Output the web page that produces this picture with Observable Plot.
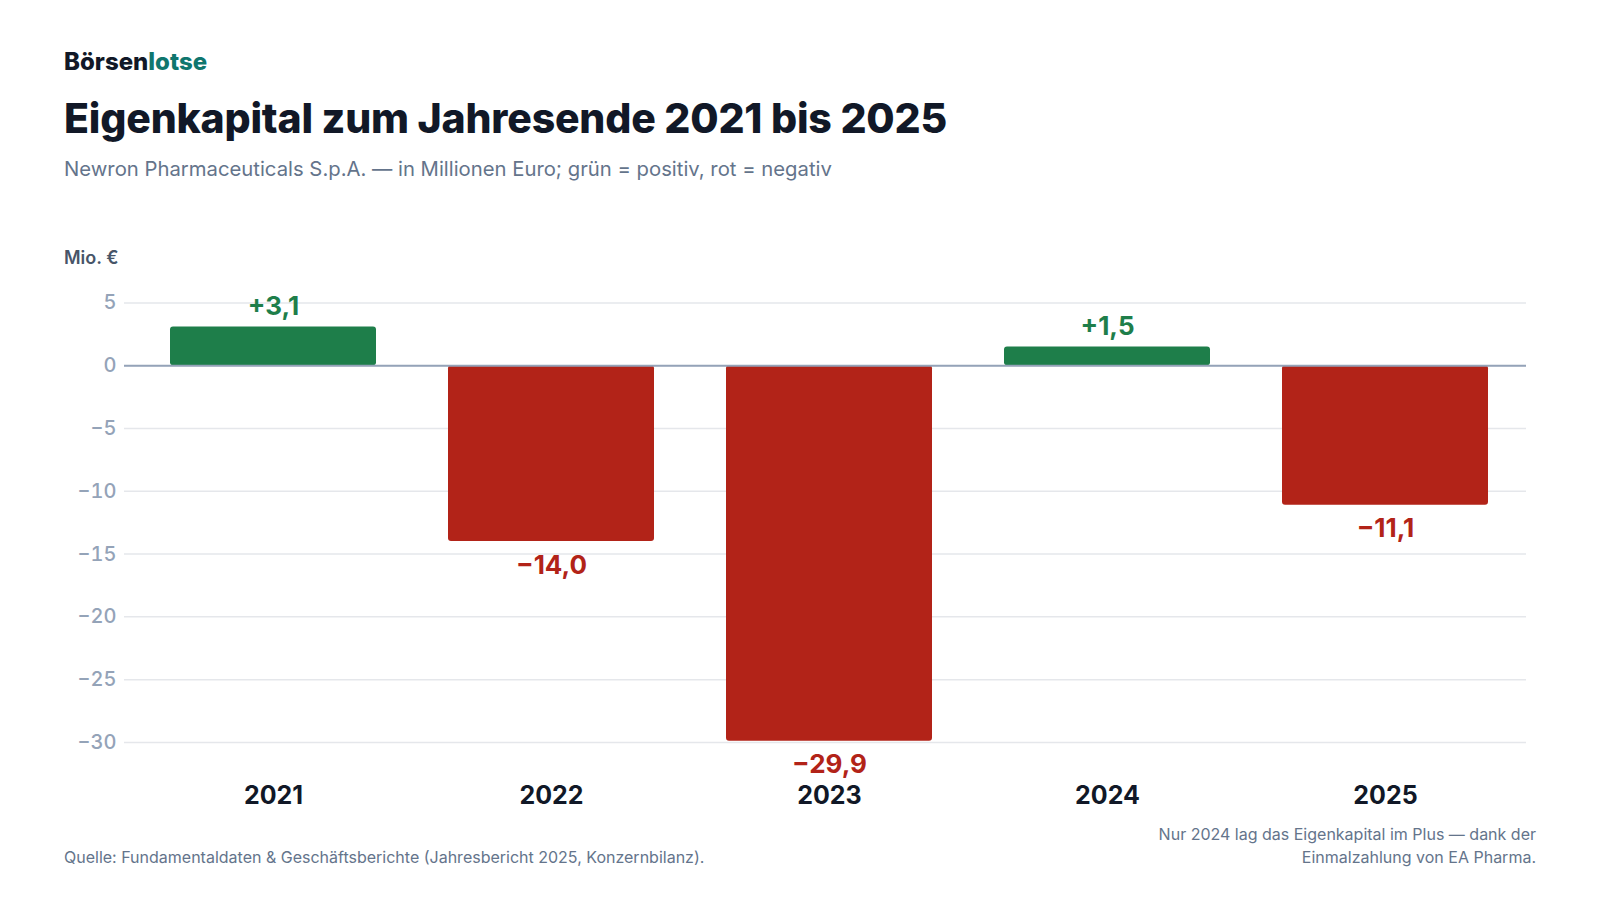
<!DOCTYPE html>
<html>
<head>
<meta charset="utf-8">
<script src="https://cdn.jsdelivr.net/npm/d3@7"></script>
<script src="https://cdn.jsdelivr.net/npm/@observablehq/plot@0.6"></script>
<style>
  body { margin: 0; background: #fff; font-family: Inter, "Noto Sans", sans-serif; }
  #page { position: relative; width: 1600px; height: 900px; overflow: hidden; }
  .abs { position: absolute; line-height: 1; white-space: nowrap; }
  #brand { left: 64px; top: 50px; font-size: 24px; font-weight: 800; color: #111827; }
  #brand span { color: #0f766e; }
  #title { left: 64px; top: 98px; font-size: 41px; font-weight: 800; color: #111827; letter-spacing: -0.005em; }
  #subtitle { left: 64px; top: 159px; font-size: 20.3px; color: #64748b; }
  #unit { left: 64px; top: 249px; font-size: 18px; font-weight: 600; color: #475569; }
  #source { left: 64px; top: 849px; font-size: 16px; color: #64748b; }
  #note { right: 64px; top: 823px; font-size: 16px; color: #64748b; text-align: right; line-height: 23px; }
  #chart { position: absolute; left: 0; top: 240px; }
</style>
</head>
<body>
<div id="page">
  <div class="abs" id="brand">Börsen<span>lotse</span></div>
  <div class="abs" id="title">Eigenkapital zum Jahresende 2021 bis 2025</div>
  <div class="abs" id="subtitle">Newron Pharmaceuticals S.p.A. — in Millionen Euro; grün = positiv, rot = negativ</div>
  <div class="abs" id="unit">Mio. €</div>
  <div id="chart"></div>
  <div class="abs" id="source">Quelle: Fundamentaldaten &amp; Geschäftsberichte (Jahresbericht 2025, Konzernbilanz).</div>
  <div class="abs" id="note">Nur 2024 lag das Eigenkapital im Plus — dank der<br>Einmalzahlung von EA Pharma.</div>
</div>
<script>
// Eigenkapital in Mio. Euro, Jahresende
const years = ["2021", "2022", "2023", "2024", "2025"];
const equity = [3.1, -14.0, -29.9, 1.5, -11.1];
const yTicks = [5, 0, -5, -10, -15, -20, -25, -30];

const green = "#1e7e4a";
const red = "#b22318";

let data = years.map((year, i) => ({year, value: equity[i]}));

let fmtTick = d => d < 0 ? "\u2212" + Math.abs(d) : String(d);
let fmtValue = v => (v >= 0 ? "+" : "\u2212") + Math.abs(v).toFixed(1).replace(".", ",");
let colorOf = d => d.value >= 0 ? green : red;

let chart = Plot.plot({
  width: 1600,
  height: 600,
  marginTop: 50,
  marginBottom: 73,
  marginLeft: 124,
  marginRight: 74,
  style: {fontFamily: "Inter, sans-serif", background: "transparent"},
  x: {domain: years, paddingInner: 0.26, paddingOuter: 0.15, align: 0.55, label: null},
  y: {domain: [-32, 6], label: null},
  marks: [
    Plot.gridY(yTicks, {stroke: "#e5e7eb", strokeOpacity: 1, strokeWidth: 1.5}),
    Plot.axisY(yTicks, {
      tickSize: 0, tickPadding: 8, tickFormat: fmtTick,
      fontSize: 20, fontWeight: 500, fill: "#94a3b8", label: null
    }),
    Plot.axisX({
      tickSize: 0, tickPadding: 19, fontSize: 25, fontWeight: 700,
      fill: "#111827", label: null
    }),
    Plot.barY(data, {x: "year", y: "value", fill: colorOf, rx: 3}),
    Plot.ruleY([0], {stroke: "#94a3b8", strokeWidth: 2}),
    // Werte über den positiven Balken
    Plot.text(data, {
      filter: d => d.value >= 0,
      x: "year", y: "value", text: d => fmtValue(d.value),
      fill: colorOf, fontSize: 26, fontWeight: 700,
      lineAnchor: "middle", dy: -20
    }),
    // Werte unter den negativen Balken
    Plot.text(data, {
      filter: d => d.value < 0,
      x: "year", y: "value", text: d => fmtValue(d.value),
      fill: colorOf, fontSize: 26, fontWeight: 700,
      lineAnchor: "middle", dy: 24
    })
  ]
});

d3.select("#chart").append(() => chart);
</script>
</body>
</html>
